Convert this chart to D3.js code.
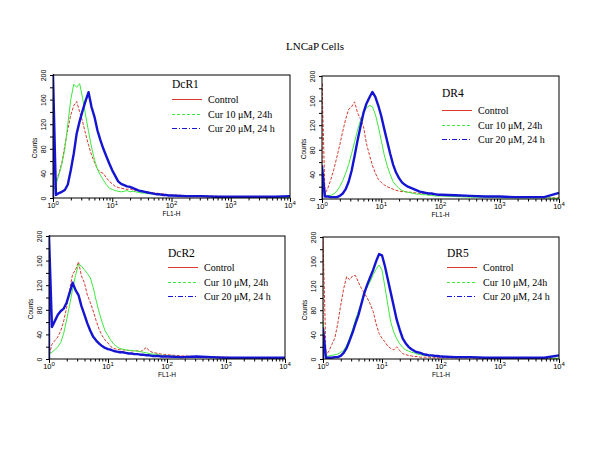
<!DOCTYPE html>
<html>
<head>
<meta charset="utf-8">
<script src="https://d3js.org/d3.v7.min.js"></script>
<style>
  body { margin: 0; background: #fff; }
  svg { display: block; }
</style>
</head>
<body>
<svg id="svg" width="600" height="463"></svg>
<script>
// FL1-H channel positions, in decades (10^0 .. 10^4)
var fl1Decades = [0.00,0.05,0.10,0.15,0.20,0.25,0.30,0.35,0.40,0.45,0.50,0.55,0.60,0.65,0.70,0.75,0.80,0.85,0.90,0.95,
                  1.00,1.05,1.10,1.15,1.20,1.25,1.30,1.35,1.40,1.45,1.50,1.55,1.60,1.65,1.70,1.75,1.80,1.85,1.90,1.95,
                  2.00,2.25,2.50,2.75,3.00,3.25,3.50,3.75,4.00];

var seriesNames = ["Control", "Cur 10 \u03bcM, 24h", "Cur 20 \u03bcM, 24 h"];
var panelNames = ["DcR1", "DR4", "DcR2", "DR5"];
var countTicks = [0,20,40,60,80,100,120,140,160,180,200];
var decadeTicks = [0,1,2,3,4];

// counts per panel: control, cur10, cur20
var dcr1Control = [12,28,40,58,85,112,135,150,157,140,124,104,86,70,58,47,42,40,33,27,23,19,17,16,15,14,15,13,12,12,11,10,9,9,8,8,7,7,6,5,5,4,3,3,2,2,2,1,1];
var dcr1Cur10   = [10,22,38,55,80,120,160,185,180,186,162,135,108,83,62,47,37,29,22,16,14,12,11,10,11,12,10,11,10,9,8,8,7,7,6,6,5,5,5,4,4,3,3,2,2,2,1,1,1];
var dcr1Cur20   = [200,5,8,10,13,22,45,72,105,125,142,158,172,148,132,110,94,80,68,56,45,36,27,23,21,19,18,16,14,12,11,10,9,8,7,6,6,5,5,4,4,3,3,2,2,2,2,2,3];

var dr4Control = [189,8,18,32,48,68,88,110,130,146,150,158,140,130,118,90,72,55,42,32,27,23,20,18,16,14,13,12,12,11,11,10,10,9,9,8,8,8,7,7,7,5,4,4,3,3,3,2,2];
var dr4Cur10   = [45,4,5,6,8,13,20,30,42,56,74,93,112,128,140,148,152,150,138,118,95,72,54,40,28,22,17,14,12,11,10,9,8,8,7,7,6,6,5,5,5,4,3,3,2,2,2,2,1];
var dr4Cur20   = [53,4,4,3,3,3,5,9,16,28,46,70,95,118,140,155,165,174,166,152,135,114,94,74,56,43,34,27,23,20,18,16,14,12,11,10,9,9,8,7,7,6,5,4,4,3,3,3,10];

var dcr2Control = [5,24,30,36,46,62,84,112,138,145,158,135,124,104,92,78,62,48,38,31,26,20,17,16,15,15,14,14,13,14,13,12,15,19,13,11,10,9,8,7,7,5,4,3,3,2,2,2,2];
var dcr2Cur10   = [8,11,15,20,27,42,64,88,114,136,154,151,145,139,132,116,95,76,60,46,38,30,24,20,17,16,15,14,14,13,13,12,11,10,9,8,8,7,6,6,5,4,3,3,2,2,2,1,1];
var dcr2Cur20   = [200,52,62,72,78,82,92,108,124,112,104,86,72,58,46,36,30,25,21,18,16,15,13,12,11,11,10,9,9,8,8,7,7,6,6,5,5,5,4,4,4,3,4,3,2,2,2,2,2];

var dr5Control = [200,6,13,24,34,58,88,115,135,130,136,137,126,116,108,100,90,78,58,42,34,28,21,17,15,20,14,9,7,6,5,4,4,3,3,3,3,2,2,2,2,2,2,1,1,1,1,1,1];
var dr5Cur10   = [61,4,5,6,7,8,11,14,22,34,48,64,78,92,108,118,127,138,147,154,146,118,88,60,44,33,25,19,15,13,11,10,8,7,6,6,5,5,4,4,4,3,3,2,2,2,2,2,1];
var dr5Cur20   = [50,2,2,2,3,3,5,10,18,30,43,58,72,90,108,122,134,146,160,172,170,152,130,108,86,64,48,34,26,20,16,13,11,10,8,7,6,6,5,5,4,3,3,2,2,2,2,2,6];

var panelCounts = [
  [dcr1Control, dcr1Cur10, dcr1Cur20],
  [dr4Control, dr4Cur10, dr4Cur20],
  [dcr2Control, dcr2Cur10, dcr2Cur20],
  [dr5Control, dr5Cur10, dr5Cur20]
];

var svg = d3.select("svg");
var serif = "'Liberation Serif', 'Times New Roman', serif";
var sans = "Arial, 'Liberation Sans', sans-serif";

// plot areas for the four panels
var boxes = [
  {l: 53,  r: 290, t: 75,  b: 198, legX: 172, legY: 99,  titleY: 88},
  {l: 322, r: 559, t: 76,  b: 199, legX: 442, legY: 110, titleY: 97},
  {l: 49,  r: 285, t: 236, b: 359, legX: 168, legY: 267, titleY: 257},
  {l: 323, r: 559, t: 237, b: 359, legX: 447, legY: 267, titleY: 257}
];

var plotStyle = [
  {color: "#d8392b", width: 1,   dash: "3,1.5"},
  {color: "#3ee83e", width: 1,   dash: null},
  {color: "#1414d2", width: 2.4, dash: null}
];
var legendStyle = [
  {color: "#d8392b", dash: null},
  {color: "#3ee83e", dash: "3,2"},
  {color: "#1414d2", dash: "5,2,1,2"}
];

svg.append("text")
  .attr("x", 315).attr("y", 50)
  .attr("text-anchor", "middle")
  .attr("font-family", serif).attr("font-size", 11)
  .text("LNCaP Cells");

boxes.forEach(function(bx, pi) {
  var g = svg.append("g");
  var x = d3.scaleLog().domain([1, 1e4]).range([bx.l, bx.r]);
  var y = d3.scaleLinear().domain([0, 200]).range([bx.b, bx.t]);

  var clipId = "clip" + pi;
  g.append("clipPath").attr("id", clipId)
    .append("rect").attr("x", bx.l).attr("y", bx.t - 1)
    .attr("width", bx.r - bx.l + 1).attr("height", bx.b - bx.t + 2);

  var line = d3.line()
    .x(function(d) { return x(Math.pow(10, d[0])); })
    .y(function(d) { return y(d[1]); });

  // draw control, cur10, cur20 (blue on top)
  panelCounts[pi].forEach(function(counts, si) {
    var pts = [[0, 0]].concat(fl1Decades.map(function(dv, k) { return [dv, counts[k]]; }));
    var st = plotStyle[si];
    g.append("path")
      .attr("clip-path", "url(#" + clipId + ")")
      .attr("d", line(pts))
      .attr("fill", "none")
      .attr("stroke", st.color)
      .attr("stroke-width", st.width)
      .attr("stroke-dasharray", st.dash)
      .attr("stroke-linejoin", "round");
  });

  // frame
  g.append("rect")
    .attr("x", bx.l).attr("y", bx.t)
    .attr("width", bx.r - bx.l).attr("height", bx.b - bx.t)
    .attr("fill", "none").attr("stroke", "#000").attr("stroke-width", 1);

  // y axis
  var yAxis = d3.axisLeft(y).tickValues(countTicks).tickSize(3).tickPadding(2)
    .tickFormat(function(d) { return d % 40 === 0 ? d : ""; });
  var ya = g.append("g").attr("transform", "translate(" + bx.l + ",0)").call(yAxis);
  ya.select(".domain").remove();
  ya.selectAll("text")
    .attr("font-size", 7).attr("font-family", sans)
    .attr("text-anchor", "middle")
    .attr("x", null).attr("dy", null)
    .attr("transform", "translate(-7,0) rotate(-90)");

  // x axis, minor ticks 2..9 per decade
  var xTicks = [];
  for (var e = 0; e < 4; e++) for (var m = 1; m < 10; m++) xTicks.push(m * Math.pow(10, e));
  xTicks.push(1e4);
  var xAxis = d3.axisBottom(x).tickValues(xTicks).tickSize(4).tickFormat("");
  var xa = g.append("g").attr("transform", "translate(0," + bx.b + ")").call(xAxis);
  xa.select(".domain").remove();
  xa.selectAll(".tick line").attr("y2", function(d) {
    var lg = Math.log10(d);
    return Math.abs(lg - Math.round(lg)) < 1e-9 ? 4 : 2.5;
  });

  decadeTicks.forEach(function(dk) {
    var t = g.append("text")
      .attr("x", x(Math.pow(10, dk))).attr("y", bx.b + 10)
      .attr("text-anchor", "middle")
      .attr("font-family", sans).attr("font-size", 7.5);
    t.append("tspan").text("10");
    t.append("tspan").attr("dy", -3).attr("font-size", 6).text(dk);
  });

  g.append("text")
    .attr("x", (bx.l + bx.r) / 2).attr("y", bx.b + 18)
    .attr("text-anchor", "middle")
    .attr("font-family", sans).attr("font-size", 6.5)
    .text("FL1-H");

  g.append("text")
    .attr("transform", "translate(" + (bx.l - 16) + "," + (bx.t + 73) + ") rotate(-90)")
    .attr("text-anchor", "middle")
    .attr("font-family", sans).attr("font-size", 6.5)
    .text("Counts");

  // legend
  g.append("text")
    .attr("x", bx.legX).attr("y", bx.titleY)
    .attr("font-family", serif).attr("font-size", 11.5)
    .text(panelNames[pi]);

  seriesNames.forEach(function(nm, si) {
    var ly = Math.round(bx.legY + si * 14.5) + 0.5;
    g.append("line")
      .attr("x1", bx.legX).attr("x2", bx.legX + 30)
      .attr("y1", ly).attr("y2", ly)
      .attr("stroke", legendStyle[si].color).attr("stroke-width", 1)
      .attr("stroke-dasharray", legendStyle[si].dash);
    g.append("text")
      .attr("x", bx.legX + 36).attr("y", ly + 3.5)
      .attr("font-family", serif).attr("font-size", 10)
      .text(nm);
  });
});
</script>
</body>
</html>
